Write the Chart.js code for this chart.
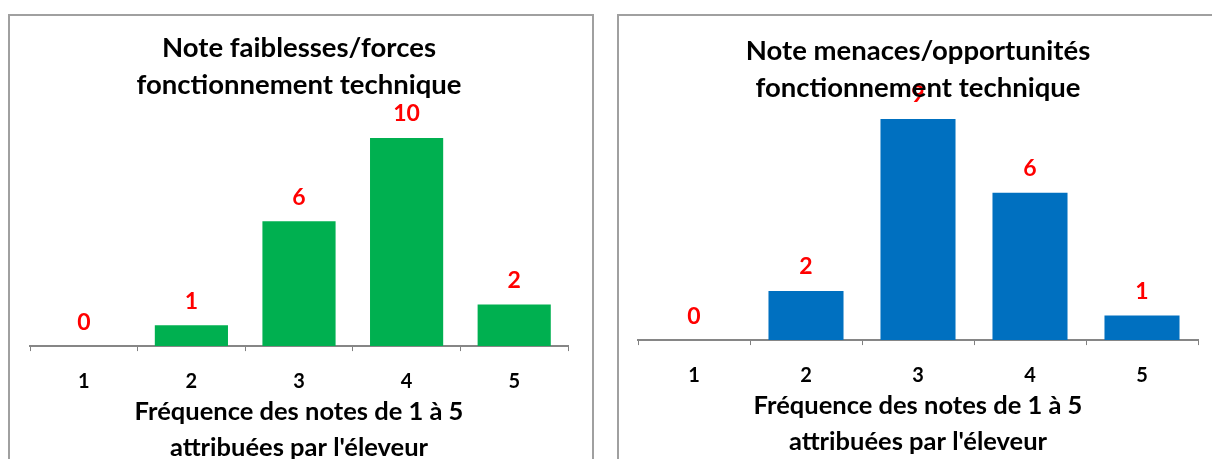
<!DOCTYPE html>
<html>
<head>
<meta charset="utf-8">
<script src="https://cdn.jsdelivr.net/npm/chart.js@4.4.0/dist/chart.umd.min.js"></script>
<style>
  html, body { margin: 0; padding: 0; background: #fff; overflow: hidden; }
  .box { position: absolute; top: 14px; height: 460px; border: 2px solid #a0a0a0; border-bottom: none; background: #fff; }
  #boxLeft { left: 8px; width: 582px; }
  #boxRight { left: 617px; width: 600px; }
  canvas { display: block; }
</style>
</head>
<body>
<div class="box" id="boxLeft"><canvas id="chartLeft" width="582" height="443"></canvas></div>
<div class="box" id="boxRight"><canvas id="chartRight" width="600" height="443"></canvas></div>
<script>
const categories = ['1', '2', '3', '4', '5'];
const forcesValues = [0, 1, 6, 10, 2];
const menacesValues = [0, 2, 9, 6, 1];
const forcesTitle = ['Note faiblesses/forces', 'fonctionnement technique'];
const menacesTitle = ['Note menaces/opportunités', 'fonctionnement technique'];
const xAxisTitle = ['Fréquence des notes de 1 à 5', "attribuées par l'éleveur"];

Chart.defaults.font.family = 'Lato';
Chart.defaults.font.weight = 'bold';
Chart.defaults.color = '#000';
Chart.defaults.animation = false;

// red value over each bar, drawn before the title so the title sits on top of it
const valueLabels = {
  id: 'valueLabels',
  beforeDraw(chart) {
    const ctx = chart.ctx;
    const values = chart.data.datasets[0].data;
    ctx.save();
    ctx.font = 'bold 23px Lato';
    ctx.fillStyle = '#ff0000';
    ctx.textAlign = 'center';
    ctx.textBaseline = 'middle';
    chart.getDatasetMeta(0).data.forEach((bar, i) => {
      ctx.fillText(values[i], bar.x, bar.y - 24);
    });
    ctx.restore();
  }
};

function makeChart(id, title, values, color, o) {
  return new Chart(document.getElementById(id), {
    type: 'bar',
    data: {
      labels: categories,
      datasets: [{ data: values, backgroundColor: color, barPercentage: o.barPct, categoryPercentage: 1 }]
    },
    options: {
      responsive: false,
      layout: { padding: { left: o.left, right: o.right, top: 0, bottom: 0 } },
      plugins: {
        legend: { display: false },
        tooltip: { enabled: false },
        title: {
          display: true,
          text: title,
          color: '#000',
          font: { size: 27.5, weight: 'bold', lineHeight: 1.345 },
          padding: { top: o.titleTop, bottom: o.titleBottom }
        }
      },
      scales: {
        x: {
          grid: { drawOnChartArea: false, offset: true, tickLength: 5, color: '#808080' },
          border: { color: '#868686', width: 2 },
          ticks: { color: '#000', padding: o.tickPad, font: { size: 20, weight: 'bold' } },
          title: {
            display: true,
            text: xAxisTitle,
            color: '#000',
            font: { size: 25.5, weight: 'bold', lineHeight: 1.41 },
            padding: { top: o.xTitleTop, bottom: o.xTitleBottom }
          }
        },
        y: { display: false, min: 0, max: o.max }
      }
    },
    plugins: [valueLabels]
  });
}

makeChart('chartLeft', forcesTitle, forcesValues, '#00b050', {
  left: 20, right: 24, titleTop: 13.5, titleBottom: 13.7, tickPad: 18.5,
  xTitleTop: -18, xTitleBottom: -7, max: 11, barPct: 0.68
});

makeChart('chartRight', menacesTitle, menacesValues, '#0070c0', {
  left: 19, right: 21, titleTop: 16.5, titleBottom: 12.5, tickPad: 18.5,
  xTitleTop: -18, xTitleBottom: -1, max: 9, barPct: 0.67
});
</script>
</body>
</html>
